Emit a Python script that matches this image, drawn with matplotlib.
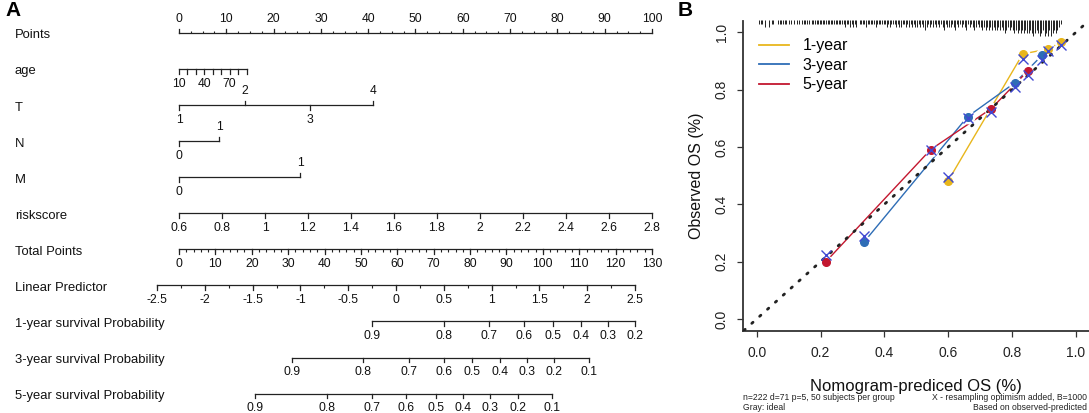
import numpy as np
import matplotlib
matplotlib.use('Agg')
import matplotlib.pyplot as plt
from matplotlib.lines import Line2D

plt.rcParams['font.family'] = ['Liberation Sans', 'DejaVu Sans']

# ---------------- panel A : nomogram ----------------
row_names = ['Points', 'age', 'T', 'N', 'M', 'riskscore', 'Total Points',
             'Linear Predictor', '1-year survival Probability',
             '3-year survival Probability', '5-year survival Probability']

age_ticks = [10, 20, 30, 40, 50, 60, 70, 80, 90]
age_labels = [10, 40, 70]
age_points = [0, 14.3]          # points at age 10 and age 90

t_levels = ['1', '2', '3', '4']
t_points = [0, 14.0, 27.7, 41.0]
t_sides = ['below', 'above', 'below', 'above']
n_levels = ['0', '1']
n_points = [0, 8.5]
m_levels = ['0', '1']
m_points = [0, 25.6]

risk_ticks = [0.6, 0.8, 1, 1.2, 1.4, 1.6, 1.8, 2, 2.2, 2.4, 2.6, 2.8]
risk_points = [0, 100]          # points at riskscore 0.6 and 2.8

total_max = 130
lp_ticks = [-2.5, -2, -1.5, -1, -0.5, 0, 0.5, 1, 1.5, 2, 2.5]
lp_total = [-6.05, 125.35]      # total points at lp -2.5 and 2.5

surv1_labels = ['0.9', '0.8', '0.7', '0.6', '0.5', '0.4', '0.3', '0.2']
surv1_total = [53.0, 72.7, 85.2, 94.8, 102.8, 110.5, 117.8, 125.3]
surv3_labels = ['0.9', '0.8', '0.7', '0.6', '0.5', '0.4', '0.3', '0.2', '0.1']
surv3_total = [31.0, 50.7, 63.1, 72.7, 80.5, 88.2, 95.7, 103.1, 112.7]
surv5_labels = ['0.9', '0.8', '0.7', '0.6', '0.5', '0.4', '0.3', '0.2', '0.1']
surv5_total = [20.9, 40.6, 53.0, 62.5, 70.6, 78.1, 85.5, 93.1, 102.4]

# ---------------- panel B : calibration ----------------
cal1_pred = [0.600, 0.834, 0.912, 0.953]
cal1_obs = [0.482, 0.925, 0.942, 0.965]
cal1_corr = [0.497, 0.906, 0.935, 0.955]
cal3_pred = [0.336, 0.661, 0.810, 0.895]
cal3_obs = [0.268, 0.706, 0.825, 0.921]
cal3_corr = [0.290, 0.700, 0.810, 0.905]
cal5_pred = [0.216, 0.545, 0.735, 0.851]
cal5_obs = [0.199, 0.591, 0.734, 0.867]
cal5_corr = [0.222, 0.590, 0.722, 0.852]

# spike heights of predicted risk distribution, bins of 0.005 from 0
rug_levels = [
    0, 1, 1, 1, 0, 2, 0, 2, 0, 1,
    1, 0, 0, 1, 1, 1, 1, 1, 1, 0,
    1, 1, 0, 1, 0, 1, 1, 0, 1, 1,
    1, 1, 1, 0, 1, 1, 1, 1, 1, 1,
    1, 1, 1, 1, 1, 1, 1, 1, 1, 1,
    1, 1, 1, 1, 1, 2, 1, 1, 2, 1,
    2, 1, 2, 0, 1, 1, 1, 1, 2, 1,
    1, 1, 1, 1, 2, 1, 1, 1, 1, 1,
    1, 2, 1, 2, 1, 1, 1, 2, 1, 2,
    2, 1, 1, 2, 1, 2, 1, 2, 1, 2,
    2, 1, 2, 1, 2, 3, 2, 1, 2, 1,
    2, 1, 2, 1, 2, 1, 2, 3, 1, 2,
    2, 2, 1, 2, 3, 1, 2, 1, 2, 1,
    2, 3, 1, 2, 1, 2, 3, 2, 1, 2,
    2, 3, 2, 3, 2, 3, 2, 3, 2, 3,
    3, 2, 3, 2, 3, 4, 3, 2, 3, 2,
    3, 4, 3, 4, 3, 4, 3, 4, 3, 4,
    4, 3, 4, 5, 4, 3, 4, 5, 4, 3,
    5, 4, 5, 3, 5, 4, 3, 4, 3, 2,
    1, 0]

col1 = '#E8B61C'
col3 = '#2E6DB6'
col5 = '#C3172F'
colx = '#4048D2'
lc = '#222222'

fig = plt.figure(figsize=(10.89, 4.13), dpi=100)

# ---- nomogram ----
axA = fig.add_axes([0, 0, 680 / 1089, 1])
axA.set_xlim(-37.84, 105.92)
axA.set_ylim(10.54, -0.924)
axA.axis('off')

lab_fs = 9.4
num_fs = 8.7
tick_len = 0.12
off = 0.40


def to_pts(tp):
    return np.asarray(tp, dtype=float) * 100.0 / total_max


def scale(row, xs, labels, sides, minor=None, minor_len=0.07):
    xs = np.asarray(xs, dtype=float)
    axA.plot([xs.min(), xs.max()], [row, row], color=lc, lw=0.9)
    if minor is not None:
        d = -1 if sides[0] == 'above' else 1
        axA.vlines(minor, row, row + d * minor_len, color=lc, lw=0.8)
    for x, lab, s in zip(xs, labels, sides):
        d = -1 if s == 'above' else 1
        axA.plot([x, x], [row, row + d * tick_len], color=lc, lw=0.9)
        if lab != '':
            axA.text(x, row + d * off, lab, ha='center', va='center',
                     fontsize=num_fs, color='#111111')


for i, name in enumerate(row_names):
    axA.text(-34.7, i + 0.06, name, ha='left', va='center',
             fontsize=lab_fs, color='#111111')

# Points
pt_major = np.arange(0, 101, 10)
scale(0, pt_major, [str(v) for v in pt_major], ['above'] * len(pt_major),
      minor=np.arange(0, 100.1, 2.5))

# age
age_x = np.interp(age_ticks, [age_ticks[0], age_ticks[-1]], age_points)
scale(1, age_x, [str(a) if a in age_labels else '' for a in age_ticks],
      ['below'] * len(age_ticks))

# T, N, M
scale(2, t_points, t_levels, t_sides)
scale(3, n_points, n_levels, ['below', 'above'])
scale(4, m_points, m_levels, ['below', 'above'])

# riskscore
risk_x = np.interp(risk_ticks, [risk_ticks[0], risk_ticks[-1]], risk_points)
scale(5, risk_x, [('%g' % v) for v in risk_ticks], ['below'] * len(risk_ticks))

# Total Points
tp_major = np.arange(0, total_max + 1, 10)
scale(6, to_pts(tp_major), [str(v) for v in tp_major],
      ['below'] * len(tp_major), minor=to_pts(np.arange(0, total_max + 1, 2)))

# Linear Predictor
lp_x = to_pts(np.interp(lp_ticks, [lp_ticks[0], lp_ticks[-1]], lp_total))
lp_minor = to_pts(np.interp(np.arange(-2.5, 2.51, 0.25),
                            [lp_ticks[0], lp_ticks[-1]], lp_total))
scale(7, lp_x, [('%g' % v) for v in lp_ticks], ['below'] * len(lp_ticks),
      minor=lp_minor)

# survival probabilities
scale(8, to_pts(surv1_total), surv1_labels, ['below'] * len(surv1_labels))
scale(9, to_pts(surv3_total), surv3_labels, ['below'] * len(surv3_labels))
scale(10, to_pts(surv5_total), surv5_labels, ['below'] * len(surv5_labels))

fig.text(5 / 1089, 1 - 10 / 413, 'A', fontsize=15, fontweight='bold',
         ha='left', va='center')

# ---- calibration ----
axB = fig.add_axes([743.3 / 1089, 82.3 / 413, 345.2 / 1089, 309.7 / 413])
axB.set_xlim(-0.042, 1.04)
axB.set_ylim(-0.041, 1.04)
for s in ['top', 'right']:
    axB.spines[s].set_visible(False)
for s in ['left', 'bottom']:
    axB.spines[s].set_color('#333333')
    axB.spines[s].set_linewidth(1.3)

ticks = [0.0, 0.2, 0.4, 0.6, 0.8, 1.0]
axB.set_xticks(ticks)
axB.set_yticks(ticks)
axB.set_xticklabels(['%.1f' % t for t in ticks])
axB.set_yticklabels(['%.1f' % t for t in ticks], rotation=90, va='center')
axB.tick_params(axis='both', length=4.3, width=0.9, color='#333333',
                labelsize=10, labelcolor='#222222')
axB.tick_params(axis='x', pad=7)
axB.tick_params(axis='y', pad=6)

# rug of predicted values
rug_x = 0.0025 + 0.005 * np.arange(len(rug_levels))
rug_h = np.asarray(rug_levels) * 0.0105
keep = rug_h > 0
axB.vlines(rug_x[keep], 1.04 - rug_h[keep], 1.045, color=lc, lw=0.7,
           clip_on=False)

for pred, obs, col in [(cal1_pred, cal1_obs, col1),
                       (cal3_pred, cal3_obs, col3),
                       (cal5_pred, cal5_obs, col5)]:
    axB.plot(pred, obs, color=col, lw=1.0, zorder=2)
    axB.plot(pred, obs, 'o', color='white', ms=9, zorder=3)

axB.plot([-0.04, 1.04], [-0.04, 1.04], color='#222222', lw=2.0,
         linestyle=(0, (0.6, 3.2)), dash_capstyle='round', zorder=4)

for pred, obs, corr, col in [(cal1_pred, cal1_obs, cal1_corr, col1),
                             (cal3_pred, cal3_obs, cal3_corr, col3),
                             (cal5_pred, cal5_obs, cal5_corr, col5)]:
    axB.plot(pred, obs, 'o', color=col, ms=5.5, zorder=5)
    axB.plot(pred, corr, 'x', color=colx, ms=7, mew=1.0, zorder=6)

handles = [Line2D([], [], color=c, lw=1.3) for c in [col1, col3, col5]]
axB.legend(handles, ['1-year', '3-year', '5-year'], loc='upper left',
           bbox_to_anchor=(0.017, 0.975), frameon=False, fontsize=11.5,
           handlelength=1.9, handletextpad=0.85, labelspacing=0.28,
           borderaxespad=0.2)

fig.text(678 / 1089, 1 - 10 / 413, 'B', fontsize=15, fontweight='bold',
         ha='left', va='center')
fig.text(697 / 1089, 1 - 176 / 413, 'Observed OS (%)', rotation=90,
         fontsize=11.5, ha='center', va='center', color='#111111')
fig.text(916 / 1089, 1 - 387 / 413, 'Nomogram-prediced OS (%)',
         fontsize=12, ha='center', va='center', color='#111111')
fig.text(743 / 1089, 1 - 397 / 413, 'n=222 d=71 p=5, 50 subjects per group',
         fontsize=6.2, ha='left', va='center', color='#222222')
fig.text(743 / 1089, 1 - 407 / 413, 'Gray: ideal',
         fontsize=6.2, ha='left', va='center', color='#222222')
fig.text(1087 / 1089, 1 - 397 / 413, 'X - resampling optimism added, B=1000',
         fontsize=6.2, ha='right', va='center', color='#222222')
fig.text(1087 / 1089, 1 - 407 / 413, 'Based on observed-predicted',
         fontsize=6.2, ha='right', va='center', color='#222222')

fig.savefig('out.png', dpi=100)
